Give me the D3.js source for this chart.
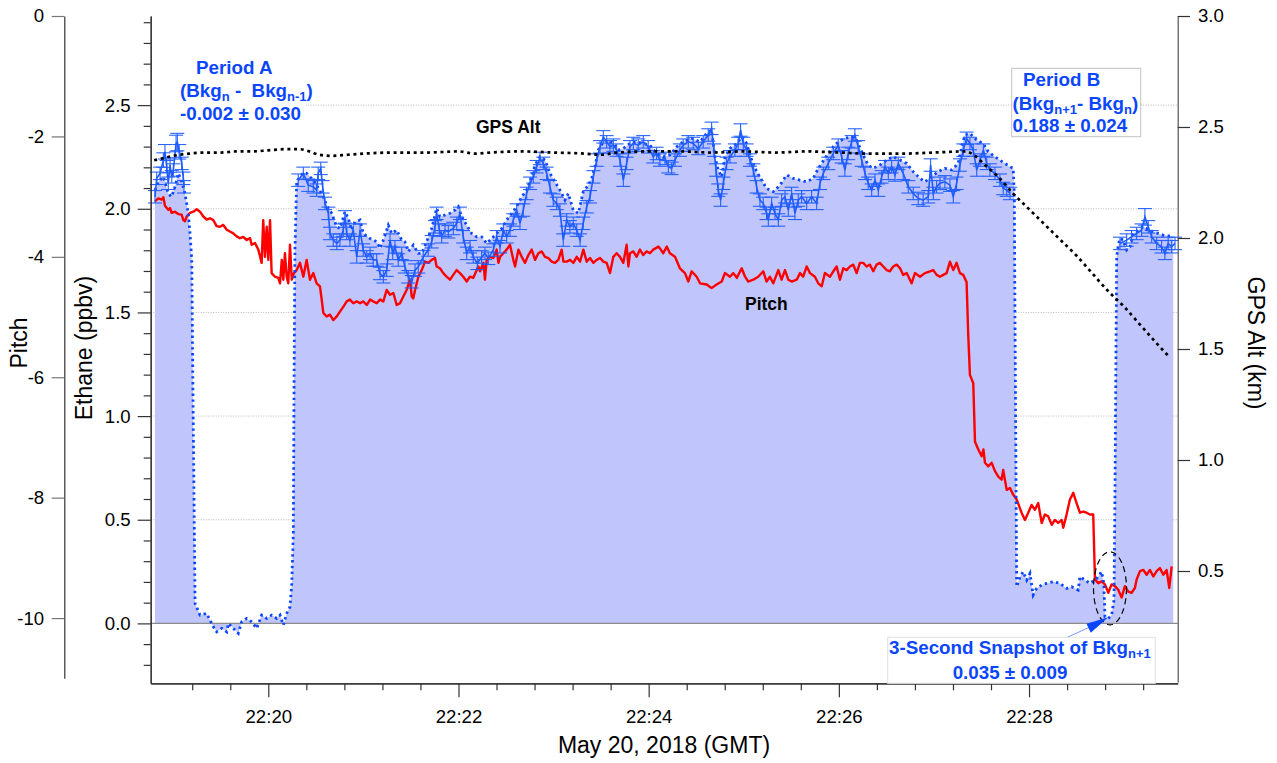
<!DOCTYPE html>
<html>
<head>
<meta charset="utf-8">
<script src="https://cdn.jsdelivr.net/npm/d3@7"></script>
<style>
  body { margin: 0; background: #fff; }
  text { font-family: "Liberation Sans", Arial, Helvetica, sans-serif; }
</style>
</head>
<body>
<svg id="chart" width="1277" height="763"></svg>
<script>
// time in seconds relative to 22:20:00 GMT, May 20 2018

// GPS altitude (km)
var gpsAlt = [[-72,2.35],[-66,2.36],[-60,2.37],[-50,2.38],[-40,2.385],[-30,2.385],[-20,2.39],[-10,2.39],[0,2.395],[10,2.40],[20,2.40],[26,2.39],[32,2.375],[40,2.37],[50,2.375],[60,2.38],[80,2.385],[100,2.385],[120,2.39],[130,2.38],[140,2.385],[160,2.39],[180,2.385],[200,2.38],[210,2.375],[220,2.385],[240,2.39],[260,2.39],[280,2.385],[300,2.39],[320,2.385],[340,2.39],[360,2.385],[380,2.38],[400,2.38],[420,2.385],[440,2.39],[446,2.37],[452,2.33],[460,2.28],[470,2.20],[480,2.13],[490,2.06],[500,1.99],[510,1.92],[520,1.84],[530,1.76],[540,1.69],[550,1.61],[560,1.53],[569,1.46]];

// Pitch (deg)
var pitch = [[-71.5,-3.08],[-69.4,-3.03],[-67.3,-3.05],[-66.2,-3.01],[-65.2,-3.15],[-63.1,-3.22],[-62,-3.19],[-61,-3.27],[-58.9,-3.25],[-56.8,-3.29],[-54.7,-3.30],[-53.6,-3.39],[-52.6,-3.41],[-51.5,-3.33],[-49.4,-3.27],[-47.3,-3.25],[-45.2,-3.21],[-43.1,-3.25],[-41,-3.33],[-38.9,-3.38],[-36.8,-3.36],[-34.7,-3.39],[-32.6,-3.49],[-30.5,-3.50],[-28.4,-3.47],[-26.2,-3.55],[-24.2,-3.58],[-22.1,-3.61],[-19.9,-3.66],[-17.9,-3.69],[-15.8,-3.67],[-13.6,-3.72],[-11.5,-3.69],[-10.5,-3.80],[-8.4,-3.77],[-6.3,-3.88],[-4.2,-4.10],[-3.2,-3.39],[-2.1,-4.00],[-1,-3.50],[0,-4.05],[1.1,-3.39],[2.1,-4.27],[4.2,-4.33],[6.3,-4.35],[7.4,-4.44],[8.5,-4.05],[9.5,-4.38],[10.5,-3.94],[11.6,-4.33],[12.6,-4.44],[13.7,-3.80],[14.8,-4.38],[16.2,-4.27],[17.9,-4.22],[20,-4.10],[22.1,-4.33],[24.2,-4.05],[26.3,-4.38],[28.4,-4.27],[30.5,-4.44],[32.6,-4.49],[33.7,-4.71],[34.7,-4.93],[36.8,-4.99],[38.9,-4.96],[41,-5.05],[43.2,-4.99],[45.2,-4.91],[47.3,-4.83],[49.5,-4.74],[51.5,-4.71],[53.6,-4.77],[55.8,-4.74],[57.9,-4.77],[59.9,-4.74],[62.1,-4.80],[64.2,-4.71],[66.2,-4.74],[68.4,-4.77],[70.5,-4.71],[72.6,-4.74],[74.7,-4.55],[76.8,-4.63],[78.9,-4.60],[81,-4.80],
  [83.1,-4.77],[85.2,-4.66],[87.3,-4.55],[89.4,-4.38],[90.5,-4.66],[91.5,-4.69],[92.6,-4.55],[94.7,-4.33],[96.8,-4.22],[98.9,-4.08],[101,-4.10],[103.1,-4.05],[105.2,-4.02],[106.2,-4.16],[108.3,-4.19],[110.4,-4.27],[112.5,-4.33],[114.6,-4.38],[116.7,-4.30],[118.8,-4.22],[120.9,-4.27],[123,-4.33],[125.2,-4.41],[127.2,-4.33],[129.3,-4.35],[131.5,-4.22],[132.5,-4.16],[133.6,-4.24],[135.7,-4.10],[136.7,-4.38],[137.8,-4.05],[139.9,-4.00],[142,-4.02],[144.1,-3.88],[145.2,-4.10],[146.2,-4.00],[148.3,-3.94],[150.4,-3.88],[152.5,-3.80],[154.6,-4.05],[155.7,-4.16],[157.8,-3.88],[159.9,-4.00],[162,-4.10],[164.1,-3.97],[166.2,-3.88],[168.3,-4.05],[170.4,-3.94],[172.5,-3.91],[174.6,-4.00],[176.7,-4.02],[178.8,-4.08],[180.9,-4.10],[183,-4.05],[185.1,-3.88],[186.2,-4.08],[188.3,-4.08],[190.4,-4.05],[192.5,-4.10],[194.6,-4.00],[196.7,-4.08],[198.8,-3.88],[200.9,-4.08],[203,-4.02],[205.1,-4.10],[207.2,-4.05],[209.3,-4.02],[211.4,-4.08],[213.5,-4.10],[215.6,-4.27],[217.7,-4.00],[219.8,-3.94],[221.9,-4.00],[224,-4.10],[226.1,-3.80],[227.2,-4.16],[228.2,-3.94],[230.3,-3.91],[232.4,-4.00],[234.5,-3.88],[236.6,-3.97],[238.7,-3.91],[240.8,-3.94],[242.9,-3.88],[246.1,-3.83],
  [247.1,-3.86],[249.2,-3.94],[251.4,-3.83],[253.4,-3.94],[256.6,-4.00],[259.7,-4.19],[262.9,-4.27],[265,-4.41],[267.1,-4.24],[270.3,-4.33],[272.4,-4.44],[276.6,-4.46],[279.7,-4.52],[282.9,-4.46],[286.1,-4.41],[288.1,-4.27],[291.3,-4.33],[293.4,-4.27],[295.6,-4.35],[298.7,-4.19],[300.8,-4.33],[302.8,-4.41],[306,-4.38],[309.1,-4.33],[312.3,-4.24],[314.4,-4.41],[316.5,-4.33],[318.6,-4.44],[321.8,-4.22],[323.9,-4.38],[326,-4.22],[328.1,-4.38],[330.2,-4.41],[333.4,-4.38],[335.5,-4.27],[337.5,-4.33],[339.7,-4.16],[341.8,-4.27],[344.9,-4.33],[347,-4.44],[349.2,-4.49],[351.2,-4.27],[354.4,-4.33],[356.5,-4.24],[358.6,-4.16],[360.7,-4.38],[362.8,-4.19],[364.9,-4.22],[367,-4.16],[369.1,-4.13],[371.2,-4.27],[373.3,-4.10],[375.4,-4.10],[377.5,-4.16],[379.6,-4.13],[381.7,-4.24],[383.8,-4.13],[385.9,-4.10],[388,-4.16],[390.2,-4.22],[392.2,-4.24],[394.3,-4.16],[396.5,-4.13],[398.6,-4.19],[400.6,-4.30],[402.8,-4.27],[405.9,-4.44],[408,-4.27],[411.2,-4.33],[414.3,-4.27],[417.5,-4.24],[419.6,-4.22],[421.7,-4.30],[423.8,-4.33],[425.9,-4.30],[428,-4.27],[430.1,-4.08],[432.2,-4.22],[434.3,-4.10],[436.4,-4.27],[438.5,-4.30],[440.6,-4.42],
  [441.6,-5.27],[442.7,-5.96],[444.8,-6.10],[445.9,-7.07],[448,-7.20],[450.1,-7.31],[451.2,-7.20],[452.2,-7.42],[454.3,-7.48],[456.4,-7.42],[458.5,-7.56],[460.6,-7.65],[462.7,-7.70],[463.7,-7.54],[465.9,-7.87],[468,-7.84],[470,-7.95],[472.2,-8.03],[475.3,-8.25],[477.4,-8.37],[479.5,-8.25],[481.6,-8.12],[483.7,-8.20],[485.8,-8.09],[488,-8.42],[490,-8.28],[492.1,-8.31],[494.3,-8.45],[496.3,-8.37],[498.4,-8.42],[500.6,-8.37],[501.6,-8.50],[503.7,-8.28],[505.8,-8.03],[507.9,-7.92],[510,-8.09],[512.1,-8.25],[514.2,-8.23],[516.3,-8.25],[518.4,-8.28],[520.5,-8.28],[521.6,-9.36],[523.7,-9.42],[525.8,-9.39],[527.9,-9.44],[530,-9.58],[532.1,-9.44],[534.2,-9.47],[536.3,-9.53],[538.4,-9.66],[540.5,-9.47],[542.6,-9.56],[544.7,-9.58],[546.8,-9.50],[547.9,-9.36],[550,-9.22],[552.1,-9.20],[554.2,-9.28],[556.3,-9.20],[558.4,-9.31],[560.5,-9.22],[562.6,-9.17],[564.7,-9.28],[566.8,-9.20],[568.5,-9.50],[570,-9.14]];

// Ethane (ppbv), dotted trace incl. background periods (drawn filled to 0)
var ethaneDotted = [[-71.5,2.090],[-69.4,2.130],[-66.2,2.154],[-63.1,2.074],[-61,2.058],[-58.9,2.106],[-56.8,2.171],[-54.6,2.130],[-52.6,2.074],[-50.5,1.978],[-49.4,1.881],[-48.3,1.753],[-47.5,1.08],[-46.2,0.096],[-43.1,0.040],[-38.9,0.048],[-34.7,-0.016],[-32.6,-0.041],[-29.4,-0.024],[-26.2,-0.041],[-25.2,0.000],[-22.1,-0.024],[-18.9,-0.048],[-16.8,0.008],[-13.6,0.024],[-10.5,0.008],[-7.3,-0.024],[-4.2,0.040],[-1,0.024],[2.1,0.040],[5.3,0.024],[7.4,0.040],[9.5,-0.008],[11.6,0.048],[13.7,0.080],[14.8,0.193],[15.8,0.434],[16.2,1.077],[16.8,1.801],[17.9,2.130],[20,2.154],[22.1,2.174],[24.2,2.171],[26.3,2.154],[28.4,2.138],[30.5,2.114],[34.7,2.058],[36.8,2.018],[40,1.978],[43.2,1.913],[45.2,1.905],[48.4,1.986],[50.5,1.954],[52.6,1.897],[54.7,1.937],[57.9,1.946],[59.9,1.881],[64.2,1.857],[68.4,1.841],[70.5,1.809],[72.6,1.849],[75.7,1.921],[77.9,1.881],[81,1.897],[84.2,1.849],[86.2,1.841],[88.3,1.793],[91.5,1.825],[94.6,1.785],[96.8,1.785],[99.9,1.841],[103.1,1.905],[106.2,2.002],[108.3,1.961],[111.5,1.970],[114.6,1.978],[117.8,1.994],[119.9,2.010],[122,1.961],[125.2,1.921],[128.3,1.881],[131.5,1.865],[134.6,1.865],[137.8,1.833],[141,1.857],[144.1,1.881],[147.3,1.905],[150.4,1.946],[153.6,1.978],[156.7,2.010],[159.9,2.058],[163,2.090],[166.2,2.154],[168.3,2.211],[171.4,2.251],[174.6,2.235],[177.7,2.171],[180.9,2.130],[184,2.090],[187.2,2.042],[189.3,2.074],[192.4,1.994],[195.6,1.978],[198.7,2.082],[201.9,2.114],[204,2.147],[206.1,2.203],[208.2,2.283],[211.4,2.323],[214.5,2.331],[217.7,2.315],[220.8,2.283],[224,2.291],[228.2,2.315],[232.4,2.323],[236.6,2.315],[240.8,2.307],[245,2.267],[249.2,2.251],[253.4,2.259],[257.7,2.299],[261.8,2.323],[267.1,2.340],[272.4,2.323],[276.6,2.364],[279.7,2.380],[281.8,2.251],[283.9,2.187],[286.1,2.154],[288.1,2.251],[291.3,2.291],[295.5,2.315],[298.7,2.347],[301.8,2.315],[305,2.235],[308.1,2.179],[311.3,2.138],[314.4,2.098],[318.6,2.082],[322.8,2.114],[327.1,2.163],[331.2,2.147],[335.5,2.138],[339.7,2.130],[343.8,2.147],[347,2.195],[351.2,2.243],[355.5,2.291],[359.6,2.323],[363.8,2.340],[368.1,2.347],[371.2,2.331],[375.4,2.259],[378.5,2.211],[381.7,2.195],[385.9,2.211],[390.2,2.235],[394.3,2.251],[398.6,2.235],[402.8,2.219],[406.9,2.179],[411.2,2.147],[414.3,2.130],[418.5,2.154],[422.7,2.179],[426.9,2.195],[431.2,2.187],[435.3,2.219],[437.5,2.299],[439.6,2.356],[442.7,2.364],[447,2.331],[451.1,2.315],[454.3,2.275],[458.5,2.251],[461.6,2.235],[464.8,2.219],[468,2.203],[470,2.195],[470.7,2.074],[471.1,1.511],[472.2,0.177],[474.3,0.225],[476.3,0.249],[478.5,0.209],[480.6,0.241],[482.6,0.137],[484.8,0.169],[488,0.185],[491.1,0.193],[495.3,0.201],[499.5,0.193],[503.7,0.169],[506.9,0.177],[511,0.161],[512.1,0.225],[515.3,0.209],[518.4,0.193],[522.7,0.217],[525.8,0.249],[527.2,0.193],[527.9,0.032],[530,0.024],[532.1,0.040],[533.6,0.112],[534.2,0.595],[535.3,1.768],[536.3,1.825],[537.4,1.857],[539.4,1.849],[541.6,1.801],[543.7,1.817],[545.8,1.881],[548.9,1.897],[552.1,1.913],[558.4,1.889],[564.7,1.873],[571,1.865]];

// Ethane (ppbv) measured plume segments: [time, value, uncertainty]
var ethaneSegA = [[-71.5,2.058,0.03],[-70.4,2.147,0.03],[-68.3,2.171,0.03],[-66.2,2.235,0.035],[-65.2,2.275,0.035],[-64.1,2.203,0.03],[-63.1,2.123,0.03],[-62,2.211,0.035],[-60.9,2.154,0.03],[-59.9,2.187,0.03],[-58.2,2.315,0.04],[-57.4,2.322,0.042],[-56.2,2.275,0.035],[-54.6,2.219,0.03],[-53.6,2.147,0.03],[-53.2,2.106,0.03]];
var ethaneSegB = [[18.9,2.138,0.03],[22.1,2.171,0.03],[25.2,2.114,0.03],[28.4,2.106,0.03],[30.5,2.090,0.03],[31.5,2.171,0.03],[33.1,2.195,0.03],[34.3,2.106,0.03],[35.8,2.026,0.03],[37.9,1.978,0.03],[38.9,1.881,0.03],[41,1.849,0.03],[43.2,1.833,0.03],[45.2,1.849,0.03],[47.3,1.897,0.03],[48.4,1.961,0.03],[49.5,1.881,0.03],[51.5,1.849,0.03],[53.6,1.897,0.03],[55.8,1.768,0.03],[57.9,1.897,0.03],[59.9,1.801,0.03],[62.1,1.768,0.03],[64.2,1.785,0.03],[66.2,1.753,0.03],[68.4,1.753,0.03],[70.5,1.688,0.03],[72.6,1.672,0.03],[74.7,1.704,0.03],[76.8,1.849,0.03],[78.5,1.785,0.03],[79.9,1.817,0.03],[82,1.753,0.03],[84.2,1.785,0.03],[86.2,1.720,0.03],[88.3,1.672,0.03],[90.5,1.648,0.03],[92.6,1.704,0.03],[94.6,1.720,0.03],[97.8,1.768,0.03],[100.9,1.801,0.03],[103.1,1.841,0.03],[105.2,1.913,0.03],[106.2,1.978,0.03],[107.9,1.897,0.03],[109.4,1.865,0.03],[111.5,1.897,0.03],[113.6,1.889,0.03],[116.7,1.905,0.03],[118.9,1.930,0.03],[120.9,1.978,0.03],[123,1.865,0.03],[125.2,1.785,0.03],[127.3,1.817,0.03],[129.3,1.768,0.03],[131.9,1.737,0.03],[134.6,1.768,0.03],[136.7,1.785,0.03],[138.8,1.761,0.03],[142,1.801,0.03],[144.1,1.865,0.03],[146.2,1.817,0.03],[148.3,1.897,0.03],[150.4,1.865,0.03],[152.5,1.897,0.03],[154.6,1.946,0.03],[156.7,1.994,0.03],[158.8,1.930,0.03],[160.9,1.994,0.03],[163,2.074,0.03],[165.1,2.123,0.03],[167.2,2.154,0.03],[169.3,2.203,0.03],[171.4,2.243,0.03],[173.5,2.219,0.03],[175.6,2.171,0.03],[177.7,2.106,0.03],[179.8,2.042,0.03],[182,2.026,0.03],[184,1.994,0.03],[186.1,1.849,0.03],[188.3,1.946,0.03],[190.3,1.913,0.03],[192.4,1.930,0.03],[194.6,1.897,0.03],[196.7,1.849,0.03],[198.7,1.930,0.03],[200.9,2.010,0.03],[203,2.058,0.03],[205.1,2.154,0.03],[207.2,2.235,0.03],[209.3,2.299,0.03],[211.4,2.347,0.03],[213.5,2.323,0.03],[215.6,2.299,0.03],[217.7,2.307,0.03],[219.8,2.283,0.03],[221.9,2.235,0.03],[224,2.138,0.03],[226.1,2.219,0.03],[228.2,2.299,0.03],[230.3,2.315,0.03],[233.4,2.307,0.03],[236.6,2.323,0.03],[239.7,2.299,0.03],[242.9,2.251,0.03],[245,2.267,0.03],[247.1,2.235,0.03],[250.3,2.243,0.03],[252.4,2.203,0.03],[254.5,2.195,0.03],[256.6,2.235,0.03],[259.7,2.283,0.03],[261.8,2.307,0.03],[265,2.323,0.03],[268.1,2.315,0.03],[271.3,2.291,0.03],[274.4,2.323,0.03],[277.6,2.356,0.03],[279.7,2.388,0.03],[281.2,2.283,0.03],[282.5,2.187,0.03],[283.9,2.090,0.03],[285.4,2.042,0.03],[287.1,2.123,0.03],[289.2,2.219,0.03],[291.3,2.251,0.03],[294.4,2.283,0.03],[296.5,2.315,0.03],[298,2.380,0.03],[299.7,2.315,0.03],[301.8,2.283,0.03],[303.9,2.235,0.03],[306,2.187,0.03],[308.1,2.106,0.03],[310.2,2.042,0.03],[312.3,2.026,0.03],[314.4,1.978,0.03],[315.5,1.946,0.03],[317.6,2.026,0.03],[319.7,1.978,0.03],[321.8,1.946,0.03],[323.9,2.042,0.03],[326,2.058,0.03],[328.1,1.994,0.03],[330.2,2.074,0.03],[332.3,1.978,0.03],[334.4,2.042,0.03],[336.5,2.058,0.03],[339.7,2.026,0.03],[342.8,2.058,0.03],[346,2.026,0.03],[348.1,2.123,0.03],[350.2,2.171,0.03],[353.3,2.219,0.03],[356.5,2.267,0.03],[359.6,2.307,0.03],[361.8,2.251,0.03],[363.8,2.187,0.03],[365.9,2.267,0.03],[368.1,2.323,0.03],[370.1,2.356,0.03],[372.2,2.299,0.03],[374.4,2.235,0.03],[376.5,2.171,0.03],[378.5,2.123,0.03],[380.7,2.090,0.03],[382.8,2.138,0.03],[384.9,2.090,0.03],[387,2.154,0.03],[389.1,2.203,0.03],[391.2,2.171,0.03],[393.3,2.203,0.03],[395.4,2.163,0.03],[397.5,2.219,0.03],[400.6,2.171,0.03],[403.8,2.106,0.03],[406.9,2.074,0.03],[410.1,2.050,0.03],[413.2,2.042,0.03],[416.4,2.058,0.03],[417.9,2.211,0.03],[419.6,2.074,0.03],[421.7,2.106,0.03],[423.8,2.123,0.03],[426.9,2.130,0.03],[430.1,2.114,0.03],[432.2,2.058,0.03],[434.3,2.123,0.03],[436.4,2.211,0.03],[438.5,2.283,0.03],[440.6,2.340,0.03],[442.7,2.315,0.03],[444.8,2.283,0.03],[447,2.187,0.03],[449.1,2.235,0.03],[451.2,2.283,0.03],[453.3,2.219,0.03],[455.3,2.187,0.03],[458.5,2.171,0.03],[461.6,2.138,0.03],[463.7,2.098,0.03],[465.9,2.090,0.03],[468,2.074,0.03]];
var ethaneSegC = [[537.4,1.833,0.03],[541.6,1.849,0.03],[544.7,1.865,0.03],[547.9,1.881,0.03],[551,1.897,0.03],[553.1,1.961,0.04],[555.2,1.913,0.03],[557.4,1.865,0.03],[560.5,1.833,0.03],[563.6,1.817,0.03],[565.7,1.785,0.03],[567.8,1.833,0.03],[570,1.817,0.03],[572.1,1.833,0.03]];

var timeTicks = ["22:20", "22:22", "22:24", "22:26", "22:28"];
var ethaneTicks = [0, 0.5, 1.0, 1.5, 2.0, 2.5];
var pitchTicks = [0, -2, -4, -6, -8, -10];
var gpsTicks = [0.5, 1.0, 1.5, 2.0, 2.5, 3.0];

(function () {
  var blue = "#0b46ff", lineBlue = "#1e5cff", fillBlue = "#c0c6fb";
  var svg = d3.select("#chart");

  var t0 = new Date(2018, 4, 20, 22, 20, 0);
  function toDate(s) { return new Date(t0.getTime() + s * 1000); }
  function parseHM(s) { var p = s.split(":"); return new Date(2018, 4, 20, +p[0], +p[1], 0); }

  var xL = 150.7, xR = 1177.7, yT = 16, yB = 683.3;
  var x = d3.scaleTime().domain([toDate(-74.2), toDate(573.8)]).range([xL, xR]);
  var yE = d3.scaleLinear().domain([-0.289, 2.930]).range([yB, yT]);
  var yP = d3.scaleLinear().domain([-11, 0]).range([678.3, yT]);
  var yG = d3.scaleLinear().domain([0, 3]).range([682, yT]);
  var xt = function (d) { return x(toDate(d[0])); };

  // grid lines (ethane)
  svg.append("g").selectAll("line").data(ethaneTicks.filter(function (d) { return d > 0; }))
    .enter().append("line")
    .attr("x1", xL).attr("x2", xR)
    .attr("y1", function (d) { return yE(d); }).attr("y2", function (d) { return yE(d); })
    .attr("stroke", "#a8a8a8").attr("stroke-width", 0.8).attr("stroke-dasharray", "1,1.5");

  // white box behind Period A
  svg.append("rect").attr("x", 152).attr("y", 52).attr("width", 154).attr("height", 72).attr("fill", "#fff");

  // filled ethane
  svg.append("path").datum(ethaneDotted)
    .attr("d", d3.area().x(xt).y0(yE(0)).y1(function (d) { return yE(d[1]); }))
    .attr("fill", fillBlue);

  // zero line
  svg.append("line").attr("x1", xL).attr("x2", xR).attr("y1", yE(0)).attr("y2", yE(0))
    .attr("stroke", "#8c8c8c").attr("stroke-width", 1.3);

  // pitch
  svg.append("path").datum(pitch)
    .attr("d", d3.line().x(xt).y(function (d) { return yP(d[1]); }))
    .attr("fill", "none").attr("stroke", "#ff0000").attr("stroke-width", 2.4).attr("stroke-linejoin", "round");

  // dotted ethane
  svg.append("path").datum(ethaneDotted)
    .attr("d", d3.line().x(xt).y(function (d) { return yE(d[1]); }))
    .attr("fill", "none").attr("stroke", blue).attr("stroke-width", 2.8).attr("stroke-dasharray", "2.4,3.4");

  // measured ethane with error bars
  [ethaneSegA, ethaneSegB, ethaneSegC].forEach(function (seg) {
    var g = svg.append("g").attr("stroke", lineBlue).attr("stroke-width", 1.1).attr("opacity", 0.95);
    g.selectAll("line.v").data(seg).enter().append("line")
      .attr("x1", xt).attr("x2", xt)
      .attr("y1", function (d) { return yE(d[1] - d[2]); })
      .attr("y2", function (d) { return yE(d[1] + d[2]); });
    [1, -1].forEach(function (sgn) {
      g.selectAll("line.c" + sgn).data(seg).enter().append("line")
        .attr("x1", function (d) { return xt(d) - 7; }).attr("x2", function (d) { return xt(d) + 7; })
        .attr("y1", function (d) { return yE(d[1] + sgn * d[2]); })
        .attr("y2", function (d) { return yE(d[1] + sgn * d[2]); });
    });
    svg.append("path").datum(seg)
      .attr("d", d3.line().x(xt).y(function (d) { return yE(d[1]); }))
      .attr("fill", "none").attr("stroke", lineBlue).attr("stroke-width", 1.6);
  });

  // GPS altitude
  svg.append("path").datum(gpsAlt)
    .attr("d", d3.line().curve(d3.curveMonotoneX).x(xt).y(function (d) { return yG(d[1]); }))
    .attr("fill", "none").attr("stroke", "#000").attr("stroke-width", 2.7).attr("stroke-dasharray", "3,3.7");

  // axes
  function styleAxis(g, lineColor, tickColor) {
    g.select(".domain").attr("stroke", lineColor).attr("stroke-width", 1.2);
    g.selectAll(".tick line").attr("stroke", tickColor).attr("stroke-width", 1.2);
    g.selectAll("text").attr("font-size", "18.6px").attr("fill", "#000")
      .attr("font-family", "'Liberation Sans', Arial, sans-serif");
  }

  var minorE = d3.range(-2, 30).filter(function (i) { return i % 5 !== 0; }).map(function (i) { return i / 10; });
  var gEm = svg.append("g").attr("transform", "translate(" + xL + ",0)")
    .call(d3.axisLeft(yE).tickValues(minorE).tickSize(7).tickSizeOuter(0).tickFormat(""));
  styleAxis(gEm, "#333", "#333");
  var gE = svg.append("g").attr("transform", "translate(" + xL + ",0)")
    .call(d3.axisLeft(yE).tickValues(ethaneTicks).tickSize(13).tickSizeOuter(0).tickPadding(7)
      .tickFormat(d3.format(".1f")));
  styleAxis(gE, "#333", "#333");

  var gP = svg.append("g").attr("transform", "translate(64.3,0)")
    .call(d3.axisLeft(yP).tickValues(pitchTicks).tickSize(12.6).tickSizeOuter(0).tickPadding(7.5)
      .tickFormat(function (d) { return String(d); }));
  styleAxis(gP, "#333", "#777");

  var gG = svg.append("g").attr("transform", "translate(" + xR + ",0)")
    .call(d3.axisRight(yG).tickValues(gpsTicks).tickSize(12.3).tickSizeOuter(0).tickPadding(8)
      .tickFormat(d3.format(".1f")));
  styleAxis(gG, "#555", "#333");

  var minorT = d3.range(-48, 574, 24).filter(function (s) { return s % 120 !== 0; }).map(toDate);
  var gXm = svg.append("g").attr("transform", "translate(0," + yB + ")")
    .call(d3.axisBottom(x).tickValues(minorT).tickSize(7).tickSizeOuter(0).tickFormat(""));
  styleAxis(gXm, "#333", "#333");
  var gX = svg.append("g").attr("transform", "translate(0," + yB + ")")
    .call(d3.axisBottom(x).tickValues(timeTicks.map(parseHM)).tickSize(14).tickSizeOuter(0).tickPadding(12)
      .tickFormat(d3.timeFormat("%H:%M")));
  styleAxis(gX, "#333", "#333");

  // axis titles
  function title(txt, tx, ty, rot) {
    svg.append("text").attr("transform", "translate(" + tx + "," + ty + ") rotate(" + rot + ")")
      .attr("text-anchor", "middle").attr("font-size", "23px").attr("fill", "#000").text(txt);
  }
  title("Pitch", 27, 343, -90);
  title("Ethane (ppbv)", 92, 348, -90);
  title("GPS Alt (km)", 1248, 343, 90);
  title("May 20, 2018 (GMT)", 664, 753, 0);

  // series labels
  svg.append("text").attr("x", 476).attr("y", 132.5).attr("font-size", "17.5px").attr("font-weight", "bold").text("GPS Alt");
  svg.append("text").attr("x", 745).attr("y", 310).attr("font-size", "17.5px").attr("font-weight", "bold").text("Pitch");

  // annotation helper: parts = [[text, isSub], ...]
  function rich(xp, yp, parts, anchor) {
    var t = svg.append("text").attr("x", xp).attr("y", yp).attr("fill", blue)
      .attr("font-weight", "bold").attr("font-size", "18.8px").style("white-space", "pre")
      .attr("text-anchor", anchor || "start");
    parts.forEach(function (p) {
      var s = t.append("tspan").text(p[0]);
      if (p[1]) s.attr("font-size", "13px").attr("dy", 4);
      else if (p[2]) s.attr("dy", -4);
    });
  }

  rich(196, 74, [["Period A"]]);
  rich(180, 97, [["(Bkg"], ["n", 1], [" -  Bkg", 0, 1], ["n-1", 1], [")", 0, 1]]);
  rich(180, 119.5, [["-0.002 \u00b1 0.030"]]);

  svg.append("rect").attr("x", 1011.7).attr("y", 68.3).attr("width", 129).attr("height", 68.4)
    .attr("fill", "#fff").attr("stroke", "#c4c4c4").attr("stroke-width", 1);
  rich(1023, 86, [["Period B"]]);
  rich(1012.5, 110, [["(Bkg"], ["n+1", 1], ["- Bkg", 0, 1], ["n", 1], [")", 0, 1]]);
  rich(1012.5, 132.3, [["0.188 \u00b1 0.024"]]);

  // snapshot marker
  svg.append("ellipse").attr("cx", 1110).attr("cy", 588.3).attr("rx", 16.5).attr("ry", 36.5)
    .attr("fill", "none").attr("stroke", "#000").attr("stroke-width", 1.2).attr("stroke-dasharray", "6,4");
  svg.append("rect").attr("x", 887.7).attr("y", 637.3).attr("width", 267.6).attr("height", 46)
    .attr("fill", "#fff").attr("stroke", "#e2e2e2").attr("stroke-width", 1);
  svg.append("line").attr("x1", 1068).attr("y1", 637).attr("x2", 1092).attr("y2", 626)
    .attr("stroke", "#7a97ff").attr("stroke-width", 1);
  svg.append("path").attr("d", "M1108.3,617.3 L1086.5,623.8 L1090.8,632.8 Z").attr("fill", blue);
  rich(889, 654.3, [["3-Second Snapshot of Bkg"], ["n+1", 1]]);
  rich(1010, 679.3, [["0.035 \u00b1 0.009"]], "middle");
})();
</script>
</body>
</html>
